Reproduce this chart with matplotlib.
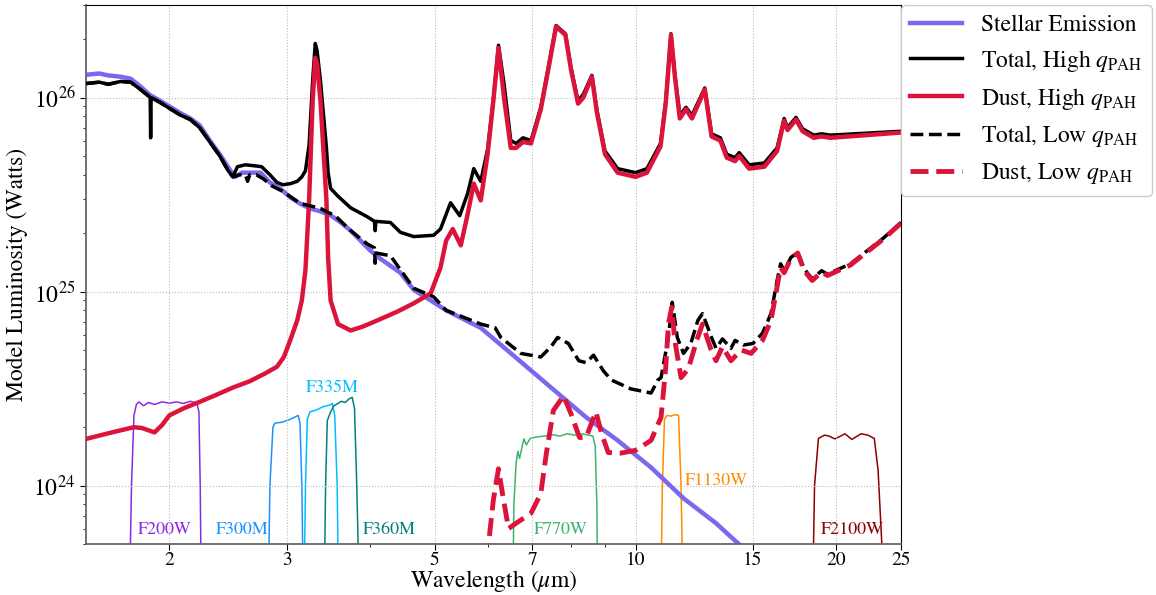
import numpy as np
import matplotlib
matplotlib.use("Agg")
import matplotlib.pyplot as plt
from matplotlib.ticker import FixedLocator, FixedFormatter, NullFormatter, LogLocator

plt.rcParams['font.family'] = ['STIXGeneral', 'DejaVu Serif']
plt.rcParams['mathtext.fontset'] = 'stix'

UNIT = 1e24  # luminosities below are in units of 1e24 W

# ---- Stellar emission ----
stellar_wl = [1.50, 1.57, 1.62, 1.69, 1.75, 1.81, 1.87, 1.94, 2.00, 2.08, 2.15, 2.22, 2.30, 2.38,
              2.47, 2.51, 2.57, 2.74, 2.83, 2.93, 3.04, 3.14, 3.25, 3.37, 3.49, 3.61, 3.74, 3.87,
              4.00, 4.14, 4.44, 4.65, 4.93, 5.20, 5.86, 6.60, 7.21, 7.47, 8.43, 9.40, 10.55,
              11.8, 13.2, 14.1, 25.0]
stellar_L = [131, 133, 130, 128, 125, 114, 103, 96, 90, 83, 78, 72, 60, 51,
             42, 39, 41, 41, 36.5, 34, 30.5, 28.4, 26.8, 25.9, 24.7, 22.8, 20.6, 18.3,
             16.3, 14.8, 12.5, 10.2, 9.0, 8.0, 6.5, 4.6, 3.55, 3.2, 2.25, 1.71, 1.24,
             0.86, 0.64, 0.52, 0.09]

# ---- Total, high qPAH ----
tot_hi_wl = [1.50, 1.57, 1.62, 1.69, 1.75, 1.81, 1.86, 1.872, 1.875, 1.878, 1.94, 2.00, 2.08,
             2.15, 2.22, 2.30, 2.38, 2.45, 2.49, 2.53, 2.60, 2.68, 2.75, 2.83, 2.90, 2.96, 3.04,
             3.11, 3.16, 3.20, 3.24, 3.28, 3.31, 3.33, 3.37, 3.44, 3.46, 3.49, 3.58, 3.74, 3.96,
             4.06, 4.07, 4.08, 4.29, 4.44, 4.65, 4.98, 5.10, 5.28, 5.45, 5.60, 5.72, 5.86, 6.00,
             6.12, 6.23, 6.35, 6.50, 6.62, 6.78, 6.97, 7.21, 7.40, 7.60, 7.85, 8.00, 8.20, 8.35,
             8.60, 8.75, 9.00, 9.40, 10.0, 10.4, 10.9, 11.1, 11.3, 11.45, 11.65, 11.9, 12.15,
             12.7, 13.0, 13.4, 13.7, 14.1, 14.3, 14.8, 15.6, 16.3, 16.7, 16.9, 17.4, 17.8,
             18.5, 19.0, 19.6, 25.0]
tot_hi_L = [118, 120, 117, 121, 120, 110, 102, 100, 62, 100, 94, 88, 81,
            77, 70, 59, 50, 42, 39, 44, 45, 44.5, 44, 40, 36.5, 35.5, 36,
            37, 39, 42, 57, 122, 190, 175, 122, 55, 41, 34, 31, 27, 24.3,
            23, 20.6, 23, 22.7, 20.2, 19.2, 19.5, 21, 28.7, 24.6, 32, 43, 37, 54,
            97, 186, 118, 60, 58, 62, 60, 89, 143, 235, 213, 143, 96, 104,
            130, 86, 53, 43, 41, 43, 58, 96, 213, 132, 81, 89, 81,
            112, 65, 62, 51, 49, 52, 45, 46, 55, 78, 70, 79, 69,
            64, 65, 64, 67]

# ---- Dust, high qPAH ----
dust_hi_wl = [1.50, 1.63, 1.77, 1.82, 1.90, 1.95, 2.00, 2.10, 2.22, 2.36, 2.49, 2.64, 2.79,
              2.90, 2.97, 3.035, 3.11, 3.16, 3.20, 3.24, 3.28, 3.31, 3.33, 3.37, 3.44, 3.46,
              3.49, 3.58, 3.74, 3.90, 4.10, 4.40, 4.65, 4.93, 5.10, 5.20, 5.32, 5.47, 5.60,
              5.72, 5.86, 6.00, 6.12, 6.23, 6.35, 6.50, 6.62, 6.78, 6.97, 7.21, 7.40, 7.60,
              7.85, 8.00, 8.20, 8.35, 8.60, 8.75, 9.00, 9.40, 10.0, 10.4, 10.9, 11.1, 11.3,
              11.45, 11.65, 11.9, 12.15, 12.7, 13.0, 13.4, 13.7, 14.1, 14.3, 14.8, 15.6,
              16.3, 16.7, 16.9, 17.4, 17.8, 18.5, 19.0, 19.6, 25.0]
dust_hi_L = [1.74, 1.87, 2.0, 1.98, 1.88, 2.05, 2.3, 2.5, 2.7, 2.95, 3.2, 3.45, 3.8,
             4.1, 4.6, 5.6, 7.1, 9.0, 13, 29.5, 96, 160, 150, 96, 29.5, 15,
             9.0, 6.8, 6.3, 6.6, 7.1, 7.9, 8.7, 9.8, 13.3, 18.3, 21, 17.3, 25,
             36, 29.5, 51, 96, 180, 100, 55, 55, 59, 58, 87, 140, 232,
             210, 140, 93, 100, 128, 84, 51, 41, 39, 41, 56, 94, 210,
             130, 78, 87, 78, 110, 63, 60, 49, 47, 50, 43, 44,
             53, 76, 68, 77, 67, 62, 63, 62, 66]

# ---- Total, low qPAH ----
tot_lo_wl = [1.50, 1.57, 1.62, 1.69, 1.75, 1.81, 1.86, 1.94, 2.00, 2.08, 2.15, 2.22, 2.30,
             2.38, 2.45, 2.49, 2.55, 2.60, 2.62, 2.64, 2.70, 2.77, 2.85, 2.95, 3.14, 3.37,
             3.55, 3.74, 3.96, 4.06, 4.07, 4.08, 4.29, 4.65, 4.98, 5.20, 5.86, 6.16, 6.28,
             6.73, 7.21, 7.47, 7.64, 7.93, 8.22, 8.43, 8.65, 8.95, 9.20, 9.84, 10.55, 10.8,
             10.92, 11.2, 11.35, 11.55, 11.8, 12.1, 12.4, 12.6, 13.0, 13.2, 13.5, 13.9, 14.1,
             14.5, 15.0, 15.5, 15.96, 16.3, 16.5, 16.7, 17.1, 17.5, 17.9, 18.4, 19.0, 19.4,
             21.0, 23.5, 25.0]
tot_lo_L = [118, 120, 117, 121, 120, 110, 102, 94, 88, 81, 77, 70, 59,
            50, 42, 39, 40, 40, 37, 40, 40, 38, 35, 33, 28.5, 26.8,
            24.5, 20.6, 17.6, 16.8, 14.0, 15.8, 15.3, 10.4, 9.4, 8.0, 6.8, 6.5, 5.8,
            4.8, 4.6, 5.2, 5.8, 5.4, 4.4, 4.3, 4.7, 3.9, 3.5, 3.15, 3.0, 3.5,
            3.6, 5.8, 8.8, 5.8, 4.8, 5.4, 7.1, 7.7, 5.8, 5.1, 5.7, 5.1, 5.6,
            5.3, 5.4, 6.1, 7.7, 11.4, 13.9, 12.8, 15.0, 15.9, 13.1, 11.6, 12.8, 12.3,
            13.9, 18.8, 22.7]

# ---- Dust, low qPAH ----
dust_lo_wl = [5.90, 6.02, 6.12, 6.23, 6.32, 6.45, 6.62, 6.97, 7.21, 7.35, 7.53, 7.80, 8.00,
              8.24, 8.43, 8.72, 8.90, 9.10, 9.50, 10.0, 10.55, 10.92, 11.1, 11.2, 11.33,
              11.45, 11.7, 12.0, 12.35, 12.6, 12.98, 13.2, 13.5, 13.9, 14.4, 14.9, 15.5,
              15.96, 16.5, 16.7, 17.1, 17.5, 17.9, 18.4, 19.0, 19.4, 21.0, 23.5, 25.0]
dust_lo_L = [0.3, 0.5, 0.84, 1.22, 0.9, 0.6, 0.64, 0.72, 0.91, 1.47, 2.44, 2.9, 2.35,
             1.77, 1.77, 2.4, 1.84, 1.48, 1.47, 1.52, 1.71, 2.25, 4.1, 6.8, 8.3,
             5.6, 3.6, 4.0, 5.6, 6.8, 5.0, 4.4, 5.2, 4.4, 5.0, 4.8, 5.6,
             7.1, 13.3, 12.5, 14.8, 15.8, 12.8, 11.4, 12.6, 12.1, 13.7, 18.6, 22.5]

# ---- Filters (scaled transmission curves) ----
filters = {
    'F200W': ([1.74, 1.755, 1.77, 1.785, 1.80, 1.83, 1.86, 1.90, 1.95, 2.0, 2.05, 2.10, 2.15,
               2.20, 2.215, 2.225, 2.235],
              [0.2, 1.0, 2.3, 2.62, 2.7, 2.58, 2.68, 2.62, 2.7, 2.66, 2.7, 2.65, 2.72,
               2.66, 2.4, 1.0, 0.2]),
    'F300M': ([2.81, 2.83, 2.86, 2.88, 2.95, 3.02, 3.08, 3.12, 3.14, 3.16, 3.18],
              [0.2, 1.0, 2.0, 2.1, 2.12, 2.18, 2.25, 2.3, 2.1, 1.0, 0.2]),
    'F335M': ([3.18, 3.20, 3.22, 3.25, 3.32, 3.40, 3.48, 3.51, 3.54, 3.57, 3.59],
              [0.2, 1.0, 2.2, 2.4, 2.45, 2.55, 2.6, 2.65, 2.3, 1.0, 0.2]),
    'F360M': ([3.41, 3.43, 3.45, 3.49, 3.53, 3.58, 3.62, 3.67, 3.72, 3.76, 3.79, 3.82, 3.86],
              [0.2, 1.0, 2.16, 2.4, 2.58, 2.65, 2.72, 2.68, 2.8, 2.85, 2.5, 1.0, 0.2]),
    'F770W': ([6.54, 6.57, 6.62, 6.66, 6.70, 6.75, 6.80, 6.86, 6.95, 7.1, 7.3, 7.5, 7.7, 7.9,
               8.1, 8.3, 8.5, 8.63, 8.70, 8.75, 8.78],
              [0.2, 0.8, 1.3, 1.5, 1.38, 1.55, 1.74, 1.62, 1.75, 1.78, 1.8, 1.83, 1.8, 1.85,
               1.82, 1.85, 1.82, 1.8, 1.6, 0.8, 0.2]),
    'F1130W': ([10.9, 10.97, 11.05, 11.15, 11.3, 11.45, 11.6, 11.7, 11.8],
               [0.2, 1.0, 2.2, 2.3, 2.28, 2.32, 2.3, 1.0, 0.2]),
    'F2100W': ([18.4, 18.55, 18.8, 19.2, 19.5, 19.9, 20.3, 20.6, 21.1, 21.5, 21.8, 22.3,
                22.8, 23.1, 23.4, 23.6],
               [0.2, 1.0, 1.75, 1.82, 1.8, 1.74, 1.8, 1.85, 1.73, 1.8, 1.85, 1.82,
                1.75, 1.2, 0.5, 0.2]),
}
filter_colors = {'F200W': '#8a2be2', 'F300M': '#1e90ff', 'F335M': '#00bfff',
                 'F360M': '#008080', 'F770W': '#3cb371', 'F1130W': '#ff8c00',
                 'F2100W': '#8b0000'}
filter_label_pos = {'F200W': (1.97, 0.59), 'F300M': (2.57, 0.59), 'F335M': (3.51, 3.2),
                    'F360M': (4.27, 0.59), 'F770W': (7.73, 0.59), 'F1130W': (13.2, 1.06),
                    'F2100W': (21.1, 0.59)}

x_ticks = [2, 3, 5, 7, 10, 15, 20, 25]

fig = plt.figure(figsize=(11.56, 5.95), dpi=100)
ax = fig.add_axes([0.0744, 0.0857, 0.705, 0.906])

for name, (wl, tr) in filters.items():
    ax.plot(wl, np.array(tr) * UNIT, color=filter_colors[name], lw=1.1, zorder=1)
    lx, ly = filter_label_pos[name]
    ax.text(lx, ly * UNIT, name, color=filter_colors[name], fontsize=13,
            ha='center', va='center', zorder=1)

ax.plot(stellar_wl, np.array(stellar_L) * UNIT, color='#7b68ee', lw=3.2, label='Stellar Emission', zorder=2)
ax.plot(tot_hi_wl, np.array(tot_hi_L) * UNIT, color='black', lw=2.5, label=r'Total, High $q_{\rm PAH}$', zorder=3)
ax.plot(dust_hi_wl, np.array(dust_hi_L) * UNIT, color='#dc143c', lw=3.2, label=r'Dust, High $q_{\rm PAH}$', zorder=4)
ax.plot(tot_lo_wl, np.array(tot_lo_L) * UNIT, color='black', lw=2.5, ls='--', label=r'Total, Low $q_{\rm PAH}$', zorder=5)
ax.plot(dust_lo_wl, np.array(dust_lo_L) * UNIT, color='#dc143c', lw=3.5, ls='--', label=r'Dust, Low $q_{\rm PAH}$', zorder=6)

ax.set_xscale('log')
ax.set_yscale('log')
ax.set_xlim(1.5, 25)
ax.set_ylim(5e23, 3e26)

ax.xaxis.set_major_locator(FixedLocator(x_ticks))
ax.xaxis.set_major_formatter(FixedFormatter([str(t) for t in x_ticks]))
ax.xaxis.set_minor_formatter(NullFormatter())
ax.yaxis.set_major_locator(LogLocator(base=10, numticks=10))

ax.tick_params(axis='x', which='major', labelsize=14, length=4, pad=2)
ax.tick_params(axis='y', which='major', labelsize=17, length=4)
ax.tick_params(which='minor', length=2.5)

ax.grid(True, which='major', ls=':', color='#bbbbbb', lw=0.8)
for s in ['left', 'bottom']:
    ax.spines[s].set_color('#666666')
    ax.spines[s].set_linewidth(1.3)

ax.set_xlabel(r'Wavelength ($\mu$m)', fontsize=17, labelpad=-1)
ax.set_ylabel('Model Luminosity (Watts)', fontsize=17, labelpad=4)

ax.legend(loc='upper left', bbox_to_anchor=(1.0, 1.0), borderaxespad=0, fontsize=17,
          handlelength=2.2, framealpha=1, edgecolor='#cccccc')

fig.savefig('out.png', dpi=100)
